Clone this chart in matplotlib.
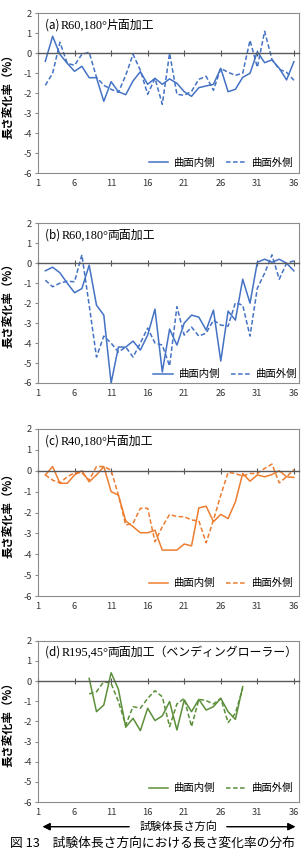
import matplotlib
matplotlib.use('Agg')
import matplotlib.pyplot as plt
from matplotlib.offsetbox import TextArea, HPacker, AnchoredOffsetbox

plt.rcParams['font.family'] = ['Noto Sans CJK JP', 'DejaVu Sans']
plt.rcParams['axes.unicode_minus'] = False

# ---------------------------------------------------------
#                      data
# ---------------------------------------------------------

x_ticks = [1, 6, 11, 16, 21, 26, 31, 36]
y_ticks = [-6, -5, -4, -3, -2, -1, 0, 1, 2]

pos_abc = list(range(2, 37))
pos_d = list(range(8, 30))

a_inner = [-0.40, 0.85, -0.05, -0.50, -0.90, -0.65, -1.22, -1.22, -2.40, -1.42,
           -1.92, -2.07, -1.38, -0.92, -1.55, -1.25, -1.55, -1.28, -1.50, -1.92,
           -2.15, -1.72, -1.63, -1.55, -0.75, -1.92, -1.80, -1.20, -1.00, 0.08,
           -0.47, -0.33, -0.75, -1.33, -0.42]
a_outer = [-1.60, -1.00, 0.55, -0.50, -0.60, -0.05, 0.05, -1.20, -1.60, -1.80,
           -1.95, -1.10, -0.05, -0.85, -2.05, -1.25, -2.55, 0.00, -2.05, -2.10,
           -1.90, -1.30, -1.15, -1.85, -0.75, -0.95, -1.10, -1.00, 0.65, -0.70,
           1.10, -0.30, -0.80, -0.95, -1.35]

b_inner = [-0.38, -0.20, -0.48, -1.00, -1.48, -1.27, -0.10, -2.10, -2.60, -6.00,
           -4.20, -4.20, -3.90, -4.35, -3.60, -2.30, -5.45, -3.30, -4.10, -3.00,
           -2.60, -2.70, -3.35, -2.35, -4.90, -2.40, -2.85, -0.80, -2.00, 0.05,
           0.20, 0.05, 0.20, 0.00, -0.38]
b_outer = [-0.85, -1.18, -1.00, -0.90, -0.93, 0.42, -2.10, -4.70, -3.65, -4.00,
           -4.45, -4.20, -4.70, -4.00, -3.25, -4.00, -4.10, -5.15, -2.18, -3.60,
           -3.20, -3.65, -3.50, -2.85, -3.10, -3.15, -1.98, -2.10, -3.65, -1.25,
           -0.50, 0.42, -0.80, 0.00, 0.12]

c_inner = [-0.20, 0.20, -0.60, -0.60, -0.20, 0.00, -0.53, -0.20, 0.20, -1.00,
           -1.17, -2.40, -2.68, -2.97, -2.97, -2.85, -3.80, -3.80, -3.80, -3.51,
           -3.60, -1.78, -1.70, -2.44, -2.09, -2.29, -1.49, -0.13, -0.50, -0.20,
           -0.29, -0.18, 0.00, -0.29, -0.32]
c_outer = [-0.20, -0.45, -0.58, -0.29, -0.10, -0.10, -0.45, 0.20, 0.20, 0.03,
           -1.17, -2.60, -2.52, -1.80, -1.80, -3.40, -2.68, -2.09, -2.20, -2.20,
           -2.36, -2.40, -3.45, -2.36, -1.17, -0.08, -0.13, -0.26, -0.13, -0.13,
           0.11, 0.32, -0.58, -0.29, 0.06]

d_inner = [0.13, -1.52, -1.19, 0.41, -0.41, -2.29, -1.85, -2.46, -1.35, -1.96,
           -1.73, -1.02, -2.43, -0.94, -1.52, -0.91, -1.44, -1.27, -0.86, -1.52,
           -1.90, -0.28]
d_outer = [-0.64, -0.53, -0.03, -0.12, -1.02, -2.18, -1.27, -1.35, -0.86, -0.48,
           -0.78, -2.26, -1.14, -0.86, -2.26, -0.91, -0.97, -1.14, -0.86, -2.06,
           -1.60, -0.36]

panels = [
    # tag, R text, kanji text, x, inner, outer, colour
    ('(a)', 'R60,180°', '片面加工', pos_abc, a_inner, a_outer, '#4472C4'),
    ('(b)', 'R60,180°', '両面加工', pos_abc, b_inner, b_outer, '#4472C4'),
    ('(c)', 'R40,180°', '片面加工', pos_abc, c_inner, c_outer, '#ED7D31'),
    ('(d)', 'R195,45°', '両面加工（ベンディングローラー）', pos_d, d_inner, d_outer, '#5B8F3A'),
]

# axes rectangles in pixels: top, bottom
boxes = [(13.3, 173.3), (223.3, 383.0), (429.0, 596.0), (640.7, 802.0)]
legend_at = [(0.977, 0.066), (0.996, 0.054), (0.977, 0.076), (0.977, 0.085)]

W, H = 304, 861
FRAME = '#8C8C8C'
ZERO = '#595959'

# ---------------------------------------------------------
#                      plot
# ---------------------------------------------------------

fig = plt.figure(figsize=(W / 100, H / 100), dpi=100)

for i, (tag, rtxt, jtxt, xs, inner, outer, col) in enumerate(panels):
    top, bot = boxes[i]
    ax = fig.add_axes([38 / W, 1 - bot / H, (299 - 38) / W, (bot - top) / H])
    ax.plot(xs, inner, color=col, lw=1.1, label='曲面内側')
    ax.plot(xs, outer, color=col, lw=1.1, dashes=(3, 1.6), label='曲面外側')
    ax.set_xlim(1, 36.7)
    ax.set_ylim(-6, 2)

    # zero line with the x ticks on it
    ax.spines['bottom'].set_position(('data', 0))
    ax.spines['bottom'].set_color(ZERO)
    ax.spines['bottom'].set_linewidth(1.0)
    ax.set_xticks(x_ticks)
    ax.tick_params(axis='x', direction='inout', length=4, width=0.8,
                   color=ZERO, labelbottom=False)
    for s in ('top', 'right', 'left'):
        ax.spines[s].set_color(FRAME)
        ax.spines[s].set_linewidth(0.8)

    # bottom frame carrying the labels
    sec = ax.secondary_xaxis(0)
    sec.set_xticks(x_ticks)
    sec.tick_params(length=0, pad=4, labelsize=6.7, labelcolor='#333333')
    sec.spines['bottom'].set_color(FRAME)
    sec.spines['bottom'].set_linewidth(0.8)

    ax.set_yticks(y_ticks)
    ax.tick_params(axis='y', direction='out', length=2.5, width=0.8,
                   color=FRAME, labelsize=6.7, labelcolor='#333333', pad=2)
    ax.set_ylabel('長さ変化率（%）', fontsize=8.2, fontweight='bold')
    ax.yaxis.set_label_coords(-0.092, 0.5)

    # panel title
    parts = [
        TextArea(tag + ' ', textprops=dict(size=8.4, family=['Noto Sans CJK JP'])),
        TextArea(rtxt, textprops=dict(size=8.8, family=['Liberation Serif'])),
        TextArea(jtxt, textprops=dict(size=8.6, family=['Noto Sans CJK JP'])),
    ]
    pack = HPacker(children=parts, sep=-1, pad=0, align='baseline')
    box = AnchoredOffsetbox(loc='center left', child=pack, pad=0, borderpad=0,
                            frameon=False, bbox_to_anchor=(0.027, 0.927),
                            bbox_transform=ax.transAxes)
    ax.add_artist(box)

    ax.legend(loc='center right', bbox_to_anchor=legend_at[i], ncol=2,
              frameon=False, fontsize=7.5, handlelength=1.9, handletextpad=0.5,
              columnspacing=1.1, borderpad=0, borderaxespad=0)

# direction arrow and caption
ya = 1 - 826.7 / H
fig.text(178 / W, ya, '試験体長さ方向', ha='center', va='center', fontsize=8)
fig.add_artist(plt.annotate('', xy=(40 / W, ya), xytext=(132 / W, ya),
                            xycoords='figure fraction',
                            arrowprops=dict(arrowstyle='-|>', color='black',
                                            lw=0.8, mutation_scale=11)))
fig.add_artist(plt.annotate('', xy=(298 / W, ya), xytext=(224 / W, ya),
                            xycoords='figure fraction',
                            arrowprops=dict(arrowstyle='-|>', color='black',
                                            lw=0.8, mutation_scale=11)))
fig.text(152.5 / W, 1 - 843 / H, '図 13　試験体長さ方向における長さ変化率の分布',
         ha='center', va='center', fontsize=9.2)

fig.savefig('out.png', dpi=100)
